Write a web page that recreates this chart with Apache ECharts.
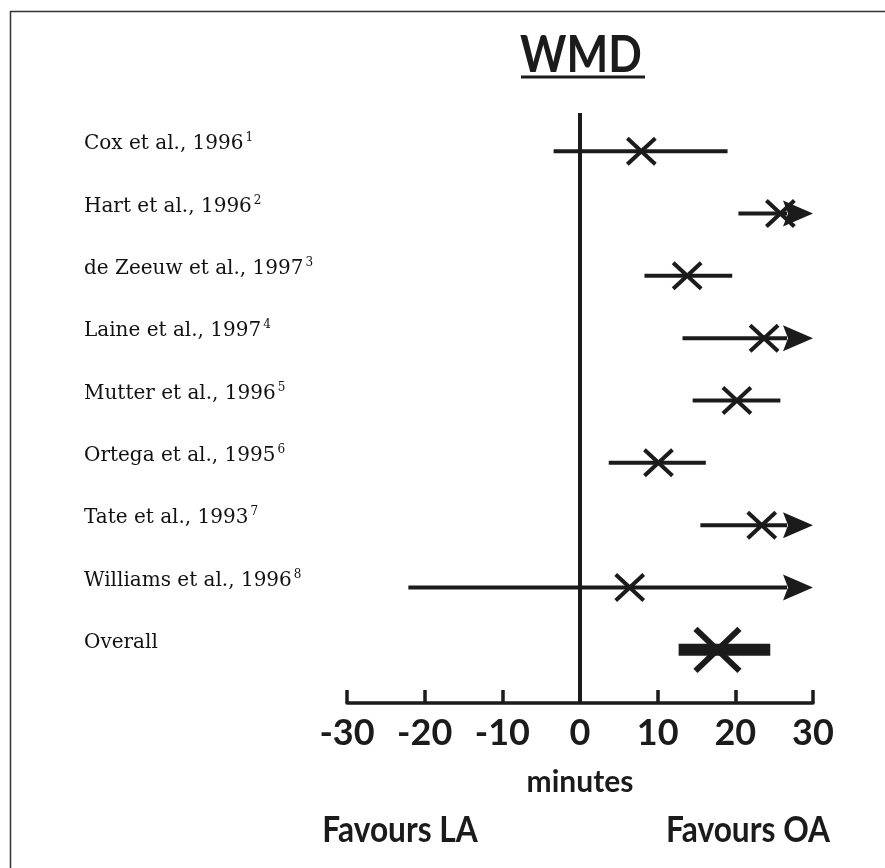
<!DOCTYPE html>
<html>
<head>
<meta charset="utf-8">
<script src="https://cdn.jsdelivr.net/npm/echarts@6/dist/echarts.min.js"></script>
<style>
    html, body { margin: 0; padding: 0; background: #fff; }
    #chart { width: 885px; height: 868px; }
</style>
</head>
<body>
<div id="chart"></div>
<script>
// studies, top to bottom
const studies = [
    'Cox et al., 1996',
    'Hart et al., 1996',
    'de Zeeuw et al., 1997',
    'Laine et al., 1997',
    'Mutter et al., 1996',
    'Ortega et al., 1995',
    'Tate et al., 1993',
    'Williams et al., 1996',
    'Overall'
];
const refNumbers = ['1', '2', '3', '4', '5', '6', '7', '8', ''];

// weighted mean difference in minutes, with confidence limits
const estimates = [7.9, 25.8, 13.8, 23.7, 20.2, 10.1, 23.4, 6.4, 17.7];
const lowerCI = [-3.4, 20.4, 8.3, 13.2, 14.5, 3.7, 15.5, -22.1, 12.7];
const upperCI = [19.0, 30, 19.6, 30, 25.8, 16.2, 30, 30, 24.5];
// upper limit runs past the end of the axis (drawn as an arrow)
const offScale = [false, true, false, true, false, false, true, true, false];

const xMin = -30;
const xMax = 30;
const xStep = 10;

const ink = '#1b1b1b';
const axisOffset = 22;

const chart = echarts.init(document.getElementById('chart'));

const rows = studies.map((s, i) => [i, lowerCI[i], estimates[i], upperCI[i], offScale[i] ? 1 : 0, s === 'Overall' ? 1 : 0]);

function cross(cx, cy, hw, hh, w) {
    return [
        { type: 'line', shape: { x1: cx - hw, y1: cy - hh, x2: cx + hw, y2: cy + hh }, style: { stroke: ink, lineWidth: w } },
        { type: 'line', shape: { x1: cx - hw, y1: cy + hh, x2: cx + hw, y2: cy - hh }, style: { stroke: ink, lineWidth: w } }
    ];
}

function renderRow(params, api) {
    const row = api.value(0);
    const lo = api.coord([api.value(1), row]);
    const est = api.coord([api.value(2), row]);
    const hi = api.coord([api.value(3), row]);
    const arrow = api.value(4) === 1;
    const overall = api.value(5) === 1;
    const y = lo[1];
    let children = [];
    if (overall) {
        children.push({ type: 'rect', shape: { x: lo[0], y: y - 6, width: hi[0] - lo[0], height: 12 }, style: { fill: ink } });
        children = children.concat(cross(est[0], y, 22, 21, 6));
    } else {
        const end = arrow ? hi[0] - 26 : hi[0];
        children.push({ type: 'line', shape: { x1: lo[0], y1: y, x2: end, y2: y }, style: { stroke: ink, lineWidth: 4 } });
        if (arrow) {
            children.push({
                type: 'polygon',
                shape: { points: [[hi[0], y], [hi[0] - 30, y - 13], [hi[0] - 25, y], [hi[0] - 30, y + 13]] },
                style: { fill: ink }
            });
        }
        children = children.concat(cross(est[0], y, 14, 13, 4));
    }
    return { type: 'group', children: children };
}

function renderZero(params, api) {
    const x = api.coord([api.value(0), 0])[0];
    const cs = params.coordSys;
    return {
        type: 'line',
        shape: { x1: x, y1: cs.y - 7, x2: x, y2: cs.y + cs.height + axisOffset },
        style: { stroke: ink, lineWidth: 4 }
    };
}

const option = {
    animation: false,
    backgroundColor: '#fff',
    grid: { left: 347, right: 72, top: 120, bottom: 187 },
    xAxis: {
        type: 'value',
        min: xMin,
        max: xMax,
        interval: xStep,
        offset: axisOffset,
        splitLine: { show: false },
        axisLine: { show: true, lineStyle: { color: ink, width: 3.5 } },
        axisTick: { show: true, inside: true, length: 13, lineStyle: { color: ink, width: 3.5 } },
        axisLabel: { color: ink, fontFamily: 'Lato', fontWeight: 'bold', fontSize: 36, margin: 12 },
        name: 'minutes',
        nameLocation: 'middle',
        nameGap: 64,
        nameTextStyle: { color: ink, fontFamily: 'Lato', fontWeight: 'bold', fontSize: 30 }
    },
    yAxis: {
        type: 'category',
        inverse: true,
        data: studies,
        axisLine: { show: false },
        axisTick: { show: false },
        axisLabel: {
            interval: 0,
            align: 'left',
            verticalAlign: 'bottom',
            margin: 263,
            padding: [0, 0, -3, 0],
            formatter: (v, i) => '{n|' + v + '}' + (refNumbers[i] ? '{s|' + refNumbers[i] + '}' : ''),
            rich: {
                n: { fontFamily: 'DejaVu Serif', fontSize: 20, color: '#111', lineHeight: 17, verticalAlign: 'bottom' },
                s: { fontFamily: 'DejaVu Serif', fontSize: 12, color: '#111', lineHeight: 12, verticalAlign: 'bottom', padding: [0, 0, 10, 2] }
            }
        }
    },
    graphic: [
        { type: 'line', shape: { x1: 10.5, y1: 11, x2: 10.5, y2: 868 }, style: { stroke: '#333', lineWidth: 1.5 } },
        { type: 'line', shape: { x1: 10, y1: 11.5, x2: 885, y2: 11.5 }, style: { stroke: '#333', lineWidth: 1.5 } },
        { type: 'text', x: 581, y: 55, scaleX: 0.85, style: { text: 'WMD', fill: ink, font: 'bold 52px Lato', align: 'center', verticalAlign: 'middle' } },
        { type: 'line', shape: { x1: 521, y1: 77, x2: 645, y2: 77 }, style: { stroke: ink, lineWidth: 3 } },
        { type: 'text', x: 400, y: 830, scaleX: 0.88, style: { text: 'Favours LA', fill: ink, font: 'bold 36px Lato', align: 'center', verticalAlign: 'middle' } },
        { type: 'text', x: 748, y: 830, scaleX: 0.88, style: { text: 'Favours OA', fill: ink, font: 'bold 36px Lato', align: 'center', verticalAlign: 'middle' } }
    ],
    series: [
        {
            type: 'custom',
            name: 'no difference',
            clip: false,
            data: [[0, 0]],
            encode: { x: 0, y: 1 },
            renderItem: renderZero
        },
        {
            type: 'custom',
            name: 'WMD',
            clip: false,
            data: rows,
            encode: { x: [1, 2, 3], y: 0 },
            renderItem: renderRow
        }
    ]
};

chart.setOption(option);
</script>
</body>
</html>
